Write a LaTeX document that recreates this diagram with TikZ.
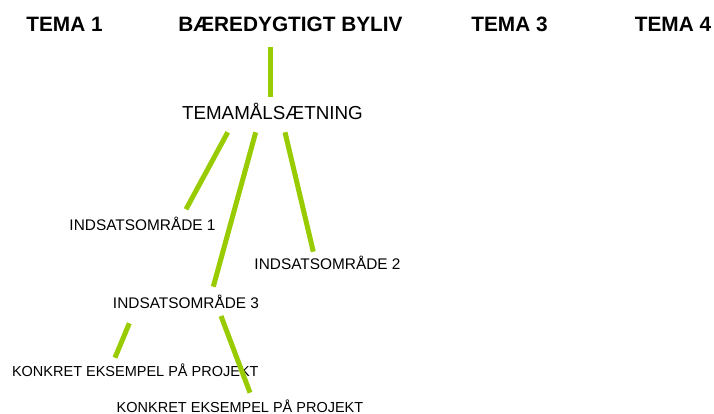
\documentclass[tikz,border=0pt]{standalone}
\usepackage{fontspec}
\setmainfont{Liberation Sans}
\definecolor{lime}{RGB}{153,204,0}
\begin{document}
\begin{tikzpicture}[x=1pt,y=-1pt,
  hdr/.style={anchor=base,inner sep=0pt,font=\bfseries\fontsize{20.8}{24}\selectfont},
  tm/.style={anchor=base,inner sep=0pt,font=\fontsize{18.8}{22}\selectfont},
  ind/.style={anchor=base,inner sep=0pt,font=\fontsize{15.4}{18}\selectfont},
  kon/.style={anchor=base,inner sep=0pt,font=\fontsize{14.5}{17}\selectfont},
  link/.style={draw=lime,line width=5pt,line cap=butt}]
\useasboundingbox (0,0) rectangle (714,414);
\fill[white] (0,0) rectangle (714,414);
\node[hdr] (t1) at (64.5,31.7) {TEMA 1};
\node[hdr] (t2) at (290.5,31.7) {BÆREDYGTIGT BYLIV};
\node[hdr] (t3) at (509.5,31.7) {TEMA 3};
\node[hdr] (t4) at (673,31.7) {TEMA 4};
\node[tm] (tm) at (272.4,120) {TEMAMÅLSÆTNING};
\node[ind] (i1) at (142.5,230) {INDSATSOMRÅDE 1};
\node[ind] (i2) at (327.5,269.3) {INDSATSOMRÅDE 2};
\node[ind] (i3) at (186,308.3) {INDSATSOMRÅDE 3};
\node[kon] (k1) at (135.3,376.7) {KONKRET EKSEMPEL PÅ PROJEKT};
\node[kon] (k2) at (240,412) {KONKRET EKSEMPEL PÅ PROJEKT};
% connector end points
\coordinate (a0) at (270,47);   \coordinate (a1) at (270,97);
\coordinate (b0) at (227.7,132.3); \coordinate (b1) at (186,209.3);
\coordinate (c0) at (255.7,132.3); \coordinate (c1) at (213.3,286.7);
\coordinate (d0) at (285,132.3); \coordinate (d1) at (313.3,251.7);
\coordinate (e0) at (129.3,323.3); \coordinate (e1) at (115,357.7);
\coordinate (f0) at (221,316); \coordinate (f1) at (250,392.7);
\draw[link] (a0) -- (a1);
\draw[link] (b0) -- (b1);
\draw[link] (c0) -- (c1);
\draw[link] (d0) -- (d1);
\draw[link] (e0) -- (e1);
\draw[link] (f0) -- (f1);
\end{tikzpicture}
\end{document}
